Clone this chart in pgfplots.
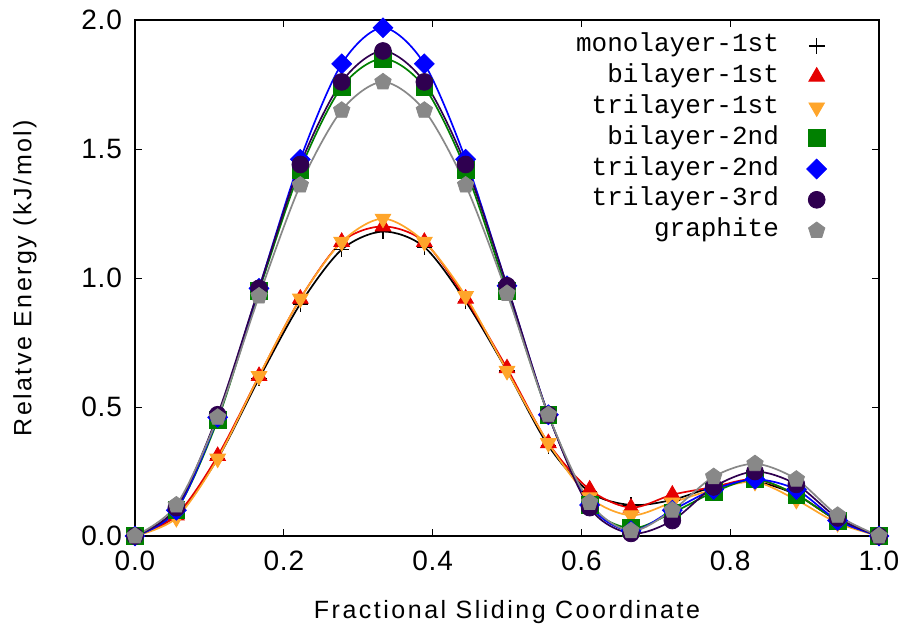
\documentclass[border=0pt]{standalone}
\usepackage{pgfplots}
\pgfplotsset{compat=1.18}
\usepackage{pgfplotstable}
\usetikzlibrary{calc}
\usepackage{fontspec}
\setmainfont{Liberation Sans}
\newfontfamily\labelfont[LetterSpace=10]{Liberation Sans}
\newfontfamily\tickfont[LetterSpace=3]{Liberation Sans}
\newfontfamily\monofont{Liberation Mono}

\definecolor{cRed}{HTML}{E50000}
\definecolor{cOrange}{HTML}{FFA52A}
\definecolor{cGreen}{HTML}{008000}
\definecolor{cBlue}{HTML}{0000FF}
\definecolor{cPurple}{HTML}{2F0050}
\definecolor{cGrey}{HTML}{888888}

% x = k/18
\pgfplotstableread{
x      mono  bione trione bitwo tritwo trithree graph
0.0000 0.00  0.00  0.00   0.00  0.00   0.00     0.00
0.0556 0.08  0.08  0.07   0.10  0.10   0.11     0.12
0.1111 0.30  0.31  0.30   0.45  0.46   0.47     0.46
0.1667 0.61  0.62  0.62   0.95  0.96   0.96     0.93
0.2222 0.90  0.92  0.92   1.42  1.46   1.44     1.36
0.2778 1.11  1.14  1.14   1.74  1.83   1.76     1.65
0.3333 1.18  1.20  1.23   1.85  1.97   1.88     1.76
0.3889 1.12  1.14  1.14   1.74  1.83   1.76     1.65
0.4444 0.91  0.92  0.93   1.42  1.46   1.44     1.36
0.5000 0.64  0.65  0.64   0.95  0.97   0.97     0.94
0.5556 0.35  0.36  0.36   0.47  0.47   0.47     0.47
0.6111 0.17  0.18  0.15   0.12  0.12   0.11     0.13
0.6667 0.12  0.11  0.08   0.03  0.02   0.01     0.02
0.7222 0.14  0.16  0.13   0.09  0.10   0.06     0.10
0.7778 0.19  0.19  0.18   0.17  0.18   0.19     0.23
0.8333 0.21  0.22  0.21   0.22  0.22   0.25     0.28
0.8889 0.16  0.16  0.14   0.16  0.18   0.20     0.22
0.9444 0.06  0.06  0.05   0.06  0.06   0.07     0.08
1.0000 0.00  0.00  0.00   0.00  0.00   0.00     0.00
}\energies

\begin{document}
\begin{tikzpicture}
\begin{axis}[
    scale only axis,
    width=372pt, height=258pt,
    xmin=0, xmax=1, ymin=0, ymax=2,
    xtick={0,0.2,...,1.0}, ytick={0,0.5,...,2.0},
    /pgf/number format/fixed,
    /pgf/number format/fixed zerofill,
    /pgf/number format/precision=1,
    /pgf/number format/assume math mode=true,
    tick align=inside,
    major tick length=3.5pt,
    minor tick num=0,
    tick style={black, line width=0.5pt},
    axis line style={line width=1pt},
    ticklabel style={font=\tickfont\fontsize{14}{16}\selectfont},
    yticklabel style={xshift=-3pt},
    xticklabel style={yshift=-4pt},
    label style={font=\labelfont\fontsize{12.5}{15}\selectfont},
    xlabel={Fractional Sliding Coordinate},
    ylabel={Relatve Energy (kJ/mol)},
    xlabel style={at={(axis description cs:0.5,-0.148)}, anchor=center},
    ylabel style={at={(axis description cs:-0.148,0.5)}, anchor=center},
    legend plot pos=right,
    legend cell align=right,
    legend style={draw=none, fill=none, at={(axis description cs:1,1)},
        anchor=north east, xshift=-23pt, yshift=-3pt,
        font=\monofont\fontsize{13}{15}\selectfont,
        row sep=0pt,
        nodes={text height=9pt, text depth=3pt, inner sep=1.7pt}},
    legend image code/.code={\path (-17pt,0pt) (0pt,0pt); \draw plot coordinates {(0pt,0pt)};},
]
% monolayer-1st
\addplot[only marks, mark=+, mark size=3.9pt, black, mark options={line width=0.7pt}] table[x=x,y=mono]{\energies};
\addlegendentry{monolayer-1st}
\addplot[smooth, black, line width=0.85pt, forget plot] table[x=x,y=mono]{\energies};
% bilayer-1st
\addplot[only marks, mark=triangle*, mark size=4.5pt, cRed] table[x=x,y=bione]{\energies};
\addlegendentry{bilayer-1st}
\addplot[smooth, cRed, line width=0.85pt, forget plot] table[x=x,y=bione]{\energies};
% trilayer-1st
\addplot[only marks, mark=triangle*, mark size=4.5pt, cOrange, mark options={rotate=180}] table[x=x,y=trione]{\energies};
\addlegendentry{trilayer-1st}
\addplot[smooth, cOrange, line width=0.85pt, forget plot] table[x=x,y=trione]{\energies};
% bilayer-2nd
\addplot[only marks, mark=square*, mark size=4.2pt, cGreen] table[x=x,y=bitwo]{\energies};
\addlegendentry{bilayer-2nd}
\addplot[smooth, cGreen, line width=0.85pt, forget plot] table[x=x,y=bitwo]{\energies};
% trilayer-2nd
\addplot[only marks, mark=square*, mark size=3.5pt, cBlue, mark options={rotate=45}] table[x=x,y=tritwo]{\energies};
\addlegendentry{trilayer-2nd}
\addplot[smooth, cBlue, line width=0.85pt, forget plot] table[x=x,y=tritwo]{\energies};
% trilayer-3rd
\addplot[only marks, mark=*, mark size=4.2pt, cPurple] table[x=x,y=trithree]{\energies};
\addlegendentry{trilayer-3rd}
\addplot[smooth, cPurple, line width=0.85pt, forget plot] table[x=x,y=trithree]{\energies};
% graphite
\addplot[only marks, mark=pentagon*, mark size=4.3pt, cGrey] table[x=x,y=graph]{\energies};
\addlegendentry{graphite}
\addplot[smooth, cGrey, line width=0.85pt, forget plot] table[x=x,y=graph]{\energies};
\end{axis}
\pgfresetboundingbox
\path[use as bounding box] ($(current axis.south west)+(-67.5pt,-48pt)$) rectangle ($(current axis.north east)+(12pt,10pt)$);
\end{tikzpicture}
\end{document}
